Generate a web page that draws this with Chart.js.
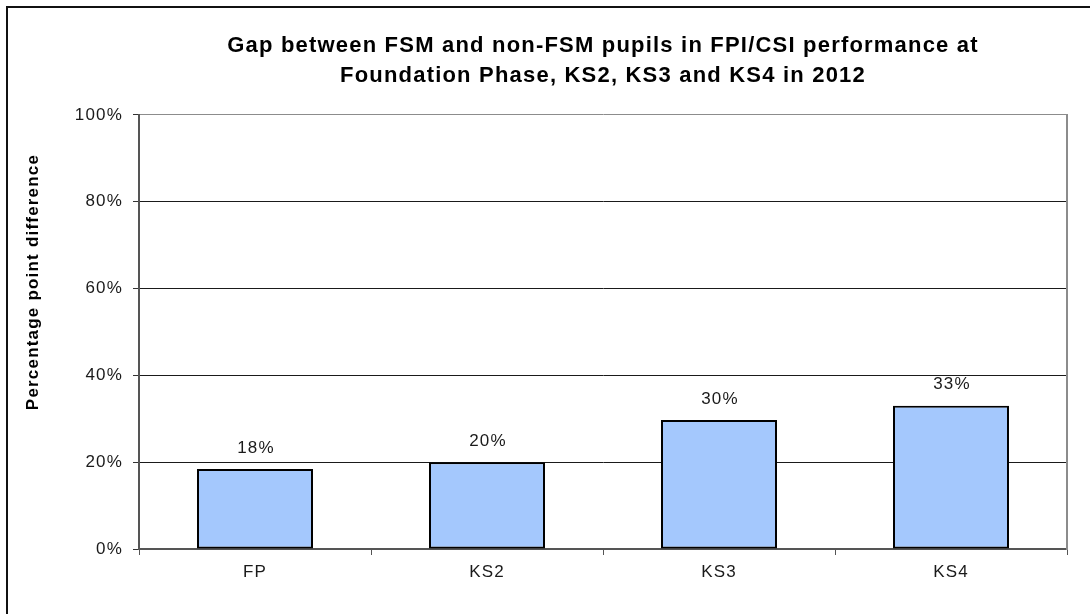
<!DOCTYPE html>
<html>
<head>
<meta charset="utf-8">
<script src="https://cdn.jsdelivr.net/npm/chart.js@4"></script>
<style>
  html, body { margin: 0; padding: 0; background: #fff; }
  #wrap { position: relative; width: 1090px; height: 614px; overflow: hidden; }
  #frame { position: absolute; left: 6px; top: 6px; width: 1200px; height: 700px;
           border-left: 2px solid #111; border-top: 2px solid #111; pointer-events: none; }
  canvas { position: absolute; left: 0; top: 0; }
</style>
</head>
<body>
<div id="wrap">
  <canvas id="c"></canvas>
  <div id="frame"></div>
</div>
<script>
const categories = ['FP', 'KS2', 'KS3', 'KS4'];
const gapValues = [18.4, 20.0, 29.7, 33.0];
const yTickValues = [0, 20, 40, 60, 80, 100];
const titleLines = ['Gap between FSM and non-FSM pupils in FPI/CSI performance at',
                    'Foundation Phase, KS2, KS3 and KS4 in 2012'];
const yAxisTitle = 'Percentage point difference';

const FONT = '"Liberation Sans", Arial, Helvetica, sans-serif';
const SPACING = '1.2px';

const spacingPlugin = {
  id: 'spacing',
  beforeLayout(chart) { chart.ctx.letterSpacing = SPACING; },
  beforeDraw(chart) { chart.ctx.letterSpacing = SPACING; }
};

const valueLabels = {
  id: 'valueLabels',
  afterDatasetsDraw(chart) {
    const ctx = chart.ctx;
    const meta = chart.getDatasetMeta(0);
    ctx.save();
    ctx.letterSpacing = SPACING;
    ctx.font = '17px ' + FONT;
    ctx.fillStyle = '#1a1a1a';
    ctx.textAlign = 'center';
    ctx.textBaseline = 'middle';
    meta.data.forEach((bar, i) => {
      ctx.fillText(Math.round(gapValues[i]) + '%', bar.x + 1, bar.y - 21);
    });
    ctx.restore();
  }
};

const yTitlePlugin = {
  id: 'yTitle',
  afterDraw(chart) {
    const ctx = chart.ctx;
    ctx.save();
    ctx.letterSpacing = SPACING;
    ctx.translate(33, 283);
    ctx.rotate(-Math.PI / 2);
    ctx.font = 'bold 17px ' + FONT;
    ctx.fillStyle = '#000';
    ctx.textAlign = 'center';
    ctx.textBaseline = 'middle';
    ctx.fillText(yAxisTitle, 1, 0);
    ctx.restore();
  }
};

new Chart(document.getElementById('c'), {
  type: 'bar',
  data: {
    labels: categories,
    datasets: [{
      data: gapValues,
      backgroundColor: '#a4c8fd',
      borderColor: '#000',
      borderWidth: 2,
      borderSkipped: false,
      categoryPercentage: 1.0,
      barPercentage: 0.5
    }]
  },
  options: {
    responsive: true,
    maintainAspectRatio: false,
    animation: false,
    events: [],
    layout: { padding: { left: 0, right: 0, top: 0, bottom: 0 } },
    plugins: {
      legend: { display: false },
      tooltip: { enabled: false },
      title: {
        display: true,
        text: titleLines,
        fullSize: false,
        color: '#000',
        font: { family: FONT, size: 22, weight: 'bold', lineHeight: 1.36 },
        padding: { top: 31, bottom: 24 }
      }
    },
    scales: {
      x: {
        offset: true,
        grid: { display: true, drawOnChartArea: false, drawTicks: true, tickLength: 6, color: '#555', offset: true },
        border: { display: true, color: '#555', width: 2 },
        ticks: { color: '#1a1a1a', font: { family: FONT, size: 17 }, padding: 7 },
        afterFit(scale) { scale.height = 65; }
      },
      y: {
        min: 0, max: 100,
        afterBuildTicks(scale) { scale.ticks = yTickValues.map(v => ({ value: v })); },
        grid: {
          color: ctx => (ctx.tick && ctx.tick.value === 100) ? '#8c8c8c' : '#1a1a1a',
          tickColor: '#333',
          lineWidth: 1,
          drawTicks: true,
          tickLength: 6
        },
        border: { display: true, color: '#555', width: 2 },
        ticks: { color: '#1a1a1a', font: { family: FONT, size: 17 }, padding: 10, callback: v => v + '%' },
        afterFit(scale) { scale.width = 139; }
      },
      y2: {
        position: 'right',
        min: 0, max: 100,
        grid: { display: false, drawTicks: false },
        border: { display: true, color: '#8c8c8c', width: 2 },
        ticks: { display: false },
        afterFit(scale) { scale.width = 23; }
      }
    }
  },
  plugins: [spacingPlugin, valueLabels, yTitlePlugin]
});
</script>
</body>
</html>
